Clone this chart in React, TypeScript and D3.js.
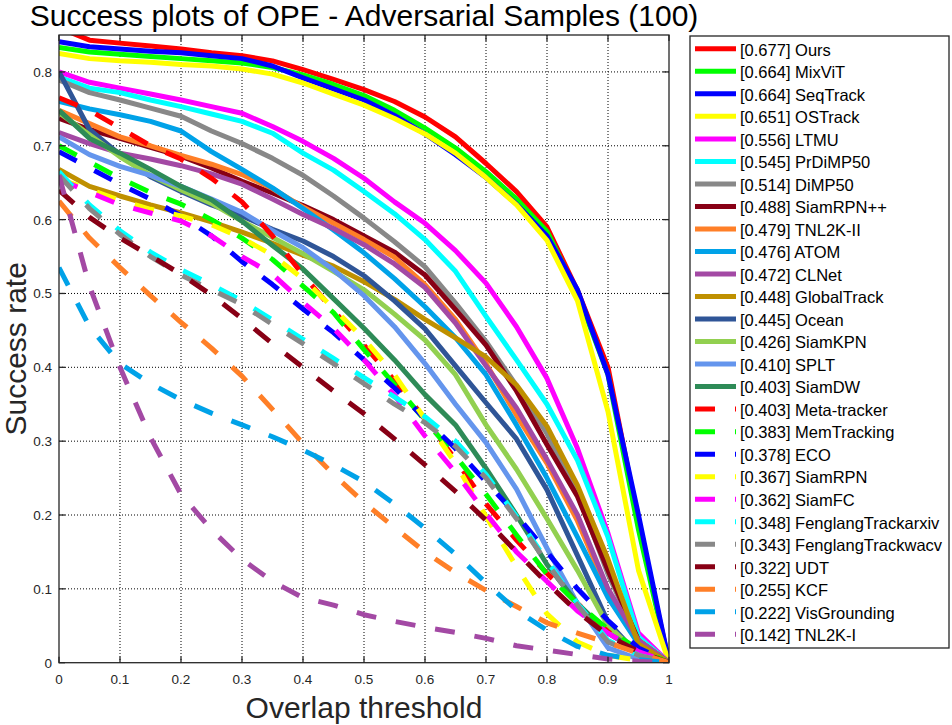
import * as d3 from "d3";

// overlap thresholds used by the OPE success plot
const thresholds = [
  0, 0.05, 0.1, 0.15, 0.2, 0.25, 0.3, 0.35, 0.4, 0.45, 0.5, 0.55, 0.6, 0.65, 0.7, 0.75, 0.8, 0.85, 0.9, 0.95, 1,
];
const xTicks = [0, 0.1, 0.2, 0.3, 0.4, 0.5, 0.6, 0.7, 0.8, 0.9, 1];
const yTicks = [0, 0.1, 0.2, 0.3, 0.4, 0.5, 0.6, 0.7, 0.8];

const trackerNames = [
  "Ours", "MixViT", "SeqTrack", "OSTrack", "LTMU", "PrDiMP50", "DiMP50", "SiamRPN++", "TNL2K-II",
  "ATOM", "CLNet", "GlobalTrack", "Ocean", "SiamKPN", "SPLT", "SiamDW", "Meta-tracker", "MemTracking",
  "ECO", "SiamRPN", "SiamFC", "FenglangTrackarxiv", "FenglangTrackwacv", "UDT", "KCF", "VisGrounding", "TNL2K-I",
];
const aucScores = [
  "0.677", "0.664", "0.664", "0.651", "0.556", "0.545", "0.514", "0.488", "0.479",
  "0.476", "0.472", "0.448", "0.445", "0.426", "0.410", "0.403", "0.403", "0.383",
  "0.378", "0.367", "0.362", "0.348", "0.343", "0.322", "0.255", "0.222", "0.142",
];

const ours = [0.86, 0.843, 0.839, 0.835, 0.831, 0.826, 0.822, 0.815, 0.803, 0.79, 0.776, 0.76, 0.739, 0.712, 0.676, 0.638, 0.59, 0.504, 0.4, 0.19, 0];
const mixvit = [0.833, 0.827, 0.824, 0.821, 0.818, 0.815, 0.812, 0.806, 0.796, 0.783, 0.768, 0.748, 0.724, 0.697, 0.665, 0.628, 0.584, 0.5, 0.39, 0.18, 0];
const seqtrack = [0.841, 0.834, 0.831, 0.828, 0.826, 0.822, 0.818, 0.808, 0.792, 0.777, 0.762, 0.741, 0.716, 0.688, 0.657, 0.621, 0.578, 0.505, 0.39, 0.2, 0];
const ostrack = [0.825, 0.818, 0.815, 0.813, 0.81, 0.808, 0.804, 0.797, 0.785, 0.77, 0.755, 0.737, 0.716, 0.69, 0.657, 0.62, 0.572, 0.49, 0.34, 0.125, 0];
const ltmu = [0.8, 0.786, 0.778, 0.77, 0.762, 0.753, 0.744, 0.726, 0.706, 0.683, 0.656, 0.624, 0.595, 0.558, 0.514, 0.455, 0.385, 0.29, 0.175, 0.04, 0];
const prdimp50 = [0.793, 0.778, 0.772, 0.762, 0.753, 0.743, 0.733, 0.717, 0.69, 0.667, 0.638, 0.608, 0.573, 0.53, 0.469, 0.41, 0.35, 0.274, 0.17, 0.035, 0];
const dimp50 = [0.789, 0.772, 0.762, 0.751, 0.74, 0.72, 0.703, 0.683, 0.66, 0.632, 0.602, 0.57, 0.536, 0.487, 0.435, 0.375, 0.31, 0.23, 0.12, 0.03, 0];
const siamrpnpp = [0.737, 0.722, 0.71, 0.698, 0.686, 0.67, 0.652, 0.636, 0.619, 0.6, 0.578, 0.556, 0.525, 0.478, 0.43, 0.368, 0.295, 0.225, 0.125, 0.03, 0];
const tnl2kII = [0.748, 0.73, 0.712, 0.7, 0.687, 0.675, 0.661, 0.642, 0.617, 0.595, 0.573, 0.549, 0.512, 0.465, 0.405, 0.335, 0.27, 0.192, 0.095, 0.03, 0];
const atom = [0.76, 0.75, 0.742, 0.733, 0.72, 0.692, 0.668, 0.643, 0.615, 0.586, 0.555, 0.52, 0.482, 0.44, 0.39, 0.322, 0.25, 0.17, 0.088, 0.025, 0];
const clnet = [0.718, 0.703, 0.69, 0.682, 0.673, 0.662, 0.648, 0.628, 0.607, 0.588, 0.566, 0.54, 0.508, 0.46, 0.402, 0.345, 0.275, 0.2, 0.1, 0.03, 0];
const globaltrack = [0.668, 0.645, 0.632, 0.62, 0.609, 0.597, 0.583, 0.568, 0.552, 0.537, 0.516, 0.492, 0.465, 0.44, 0.414, 0.376, 0.32, 0.24, 0.14, 0.025, 0];
const ocean = [0.8, 0.722, 0.688, 0.658, 0.638, 0.62, 0.605, 0.587, 0.571, 0.55, 0.524, 0.49, 0.452, 0.402, 0.352, 0.303, 0.234, 0.145, 0.055, 0.01, 0];
const siamkpn = [0.745, 0.715, 0.685, 0.66, 0.64, 0.622, 0.598, 0.576, 0.554, 0.53, 0.505, 0.472, 0.437, 0.39, 0.322, 0.262, 0.195, 0.125, 0.05, 0.012, 0];
const splt = [0.712, 0.688, 0.672, 0.66, 0.645, 0.628, 0.61, 0.585, 0.562, 0.532, 0.497, 0.455, 0.405, 0.35, 0.298, 0.235, 0.155, 0.08, 0.02, 0.005, 0];
const siamdw = [0.748, 0.71, 0.69, 0.668, 0.645, 0.627, 0.598, 0.565, 0.533, 0.493, 0.453, 0.41, 0.363, 0.322, 0.263, 0.2, 0.133, 0.08, 0.04, 0.015, 0];
const metaTracker = [0.765, 0.748, 0.724, 0.7, 0.682, 0.656, 0.624, 0.578, 0.525, 0.477, 0.43, 0.382, 0.33, 0.275, 0.215, 0.166, 0.121, 0.08, 0.042, 0.015, 0];
const memTracking = [0.7, 0.678, 0.656, 0.637, 0.621, 0.6, 0.575, 0.546, 0.51, 0.474, 0.424, 0.377, 0.328, 0.28, 0.228, 0.173, 0.12, 0.08, 0.045, 0.018, 0];
const eco = [0.692, 0.67, 0.648, 0.628, 0.605, 0.578, 0.543, 0.512, 0.479, 0.447, 0.41, 0.372, 0.33, 0.29, 0.245, 0.2, 0.15, 0.1, 0.057, 0.02, 0];
const siamrpn = [0.655, 0.641, 0.626, 0.614, 0.605, 0.593, 0.575, 0.552, 0.52, 0.48, 0.438, 0.39, 0.33, 0.27, 0.198, 0.13, 0.066, 0.028, 0.01, 0.003, 0];
const siamfc = [0.655, 0.637, 0.62, 0.609, 0.598, 0.578, 0.55, 0.526, 0.488, 0.453, 0.41, 0.362, 0.307, 0.258, 0.202, 0.15, 0.11, 0.07, 0.04, 0.015, 0];
const fenglangArxiv = [0.665, 0.62, 0.585, 0.556, 0.532, 0.512, 0.49, 0.464, 0.438, 0.412, 0.386, 0.36, 0.333, 0.3, 0.255, 0.198, 0.138, 0.08, 0.03, 0.01, 0];
const fenglangWacv = [0.66, 0.615, 0.58, 0.55, 0.525, 0.505, 0.485, 0.458, 0.432, 0.405, 0.378, 0.35, 0.325, 0.293, 0.25, 0.195, 0.135, 0.078, 0.028, 0.01, 0];
const udt = [0.64, 0.603, 0.575, 0.551, 0.526, 0.498, 0.466, 0.432, 0.4, 0.368, 0.337, 0.303, 0.268, 0.232, 0.193, 0.15, 0.108, 0.069, 0.037, 0.015, 0];
const kcf = [0.625, 0.575, 0.535, 0.497, 0.461, 0.426, 0.388, 0.343, 0.297, 0.255, 0.217, 0.183, 0.15, 0.122, 0.098, 0.076, 0.054, 0.04, 0.027, 0.013, 0];
const visGrounding = [0.535, 0.455, 0.405, 0.378, 0.356, 0.338, 0.322, 0.306, 0.288, 0.268, 0.245, 0.215, 0.182, 0.147, 0.108, 0.071, 0.044, 0.022, 0.01, 0.004, 0];
const tnl2kI = [0.66, 0.51, 0.4, 0.305, 0.228, 0.18, 0.14, 0.11, 0.088, 0.078, 0.065, 0.056, 0.048, 0.041, 0.033, 0.023, 0.017, 0.011, 0.005, 0.002, 0];

const successSeries = [
  ours, mixvit, seqtrack, ostrack, ltmu, prdimp50, dimp50, siamrpnpp, tnl2kII,
  atom, clnet, globaltrack, ocean, siamkpn, splt, siamdw, metaTracker, memTracking,
  eco, siamrpn, siamfc, fenglangArxiv, fenglangWacv, udt, kcf, visGrounding, tnl2kI,
];

// styles
const solidColors = [
  "#ff0000", "#00ff00", "#0000ff", "#ffff00", "#ff00ff", "#00ffff", "#888888", "#880015",
  "#ff7f27", "#00a2e8", "#a349a4", "#bf9000", "#2f5597", "#92d050", "#6495ed", "#2e8b57",
];
const dashedColors = [
  "#ff0000", "#00ff00", "#0000ff", "#ffff00", "#ff00ff", "#00ffff", "#888888", "#880015",
  "#ff7f27", "#00a2e8", "#a349a4",
];
const lineColors = [...solidColors, ...dashedColors];
const DASH = "20,20";
const FONT = "'Liberation Sans', Arial, Helvetica, sans-serif";

const W = 952;
const H = 725;
const plot = { left: 59, right: 669, top: 35, bottom: 662.7 };

export default function App() {
  const x = d3.scaleLinear().domain([0, 1]).range([plot.left, plot.right]);
  const y = d3.scaleLinear().domain([0, 0.85]).range([plot.bottom, plot.top]);

  const line = d3
    .line<number>()
    .x((_, i) => x(thresholds[i]))
    .y((d) => y(d));

  const legendX = 690;
  const legendRow = (i: number) => 48.8 + i * 22.52;

  return (
    <svg
      width={W}
      height={H}
      style={{ position: "absolute", left: 0, top: 0, background: "#fff" }}
      fontFamily={FONT}
    >
      <defs>
        <clipPath id="plot-clip">
          <rect x={plot.left} y={plot.top} width={plot.right - plot.left} height={plot.bottom - plot.top} />
        </clipPath>
      </defs>

      <rect x={plot.left} y={plot.top} width={plot.right - plot.left} height={plot.bottom - plot.top} fill="#fff" />

      {/* grid */}
      <g stroke="#000" strokeWidth={1} strokeDasharray="1,2">
        {xTicks.slice(1, -1).map((t) => (
          <line key={"gx" + t} x1={x(t)} x2={x(t)} y1={plot.top} y2={plot.bottom} />
        ))}
        {yTicks.slice(1).map((t) => (
          <line key={"gy" + t} x1={plot.left} x2={plot.right} y1={y(t)} y2={y(t)} />
        ))}
      </g>

      {/* curves */}
      <g clipPath="url(#plot-clip)" fill="none" strokeWidth={5} strokeLinejoin="round">
        {successSeries.map((values, i) => (
          <path
            key={trackerNames[i]}
            d={line(values) || ""}
            stroke={lineColors[i]}
            strokeDasharray={i >= solidColors.length ? DASH : undefined}
          />
        ))}
      </g>

      {/* axes box and ticks */}
      <g stroke="#262626" strokeWidth={1.3}>
        <rect
          x={plot.left}
          y={plot.top}
          width={plot.right - plot.left}
          height={plot.bottom - plot.top}
          fill="none"
        />
        {xTicks.map((t) => (
          <g key={"tx" + t}>
            <line x1={x(t)} x2={x(t)} y1={plot.bottom} y2={plot.bottom - 6} />
            <line x1={x(t)} x2={x(t)} y1={plot.top} y2={plot.top + 6} />
          </g>
        ))}
        {yTicks.map((t) => (
          <g key={"ty" + t}>
            <line x1={plot.left} x2={plot.left + 6} y1={y(t)} y2={y(t)} />
            <line x1={plot.right} x2={plot.right - 6} y1={y(t)} y2={y(t)} />
          </g>
        ))}
      </g>

      {/* tick labels */}
      <g fontSize={13.5} fill="#262626">
        {xTicks.map((t) => (
          <text key={"lx" + t} x={x(t)} y={plot.bottom + 21} textAnchor="middle">
            {d3.format("")(t)}
          </text>
        ))}
        {yTicks.map((t) => (
          <text key={"ly" + t} x={plot.left - 7} y={y(t) + 5} textAnchor="end">
            {d3.format("")(t)}
          </text>
        ))}
      </g>

      {/* titles */}
      <text x={(plot.left + plot.right) / 2} y={26} textAnchor="middle" fontSize={30} fill="#000">
        Success plots of OPE - Adversarial Samples (100)
      </text>
      <text x={(plot.left + plot.right) / 2} y={718} textAnchor="middle" fontSize={30} fill="#262626">
        Overlap threshold
      </text>
      <text
        transform={`translate(26,${(plot.top + plot.bottom) / 2}) rotate(-90)`}
        textAnchor="middle"
        fontSize={30}
        fill="#262626"
      >
        Success rate
      </text>

      {/* legend */}
      <rect x={legendX} y={36} width={259} height={612} fill="#fff" stroke="#262626" strokeWidth={1.3} />
      {trackerNames.map((name, i) => (
        <g key={"lg" + name}>
          <line
            x1={legendX + 5}
            x2={legendX + 46}
            y1={legendRow(i)}
            y2={legendRow(i)}
            stroke={lineColors[i]}
            strokeWidth={5}
            strokeDasharray={i >= solidColors.length ? DASH : undefined}
          />
          <text x={legendX + 50} y={legendRow(i) + 6.8} fontSize={16.5} fill="#000">
            [{aucScores[i]}] {name}
          </text>
        </g>
      ))}
    </svg>
  );
}
